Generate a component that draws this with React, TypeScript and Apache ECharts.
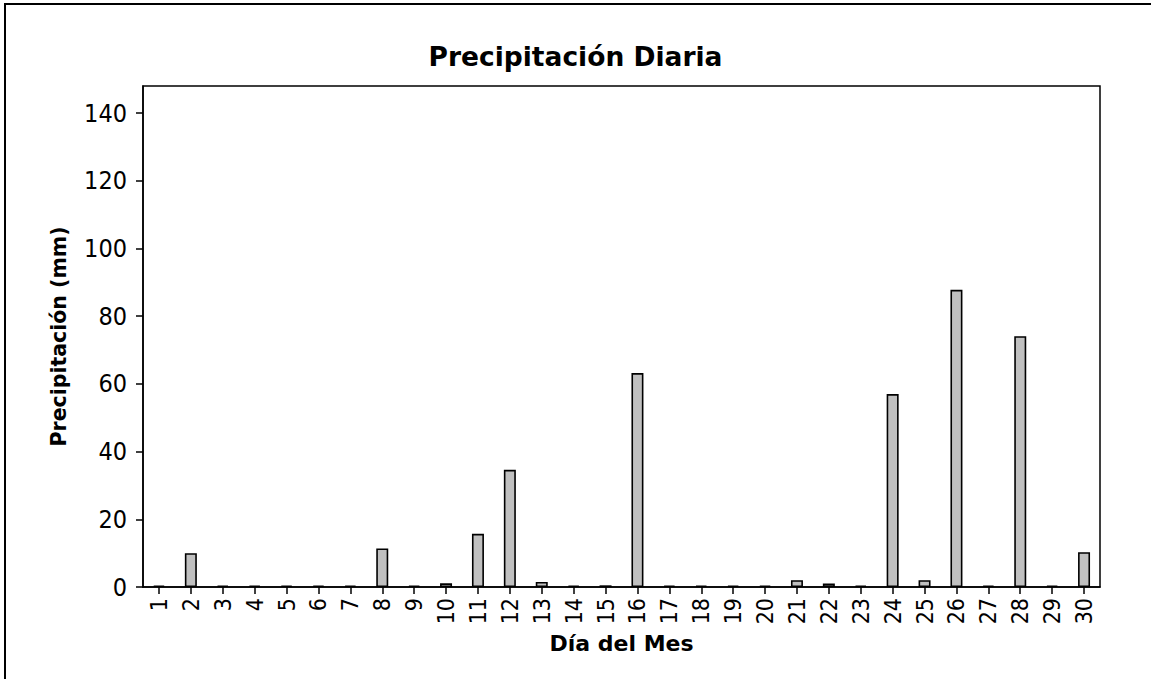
import React, { useEffect, useRef } from "react";
import * as echarts from "echarts";

const days: string[] = [
  "1", "2", "3", "4", "5", "6", "7", "8", "9", "10",
  "11", "12", "13", "14", "15", "16", "17", "18", "19", "20",
  "21", "22", "23", "24", "25", "26", "27", "28", "29", "30",
];
const precipitation: number[] = [
  0, 10, 0, 0, 0, 0, 0, 11.4, 0, 1.1,
  15.7, 34.6, 1.5, 0, 0.5, 63.2, 0, 0, 0, 0,
  2, 1, 0, 57, 2, 87.8, 0, 74.1, 0, 10.3,
];
const yTicks: number[] = [0, 20, 40, 60, 80, 100, 120, 140];

const titleText = "Precipitación Diaria";
const yName = "Precipitación (mm)";
const xName = "Día del Mes";

const FONT = "'DejaVu Sans Condensed', 'DejaVu Sans', Verdana, sans-serif";
const BOLD_FONT = "'DejaVu Sans', Verdana, sans-serif";

export default function App() {
  const ref = useRef<HTMLDivElement>(null);
  useEffect(() => {
    document.body.style.margin = "0";
    if (!ref.current) return;
    const chart = echarts.init(ref.current, undefined, { renderer: "svg" });
    chart.setOption({
      animation: false,
      backgroundColor: "#ffffff",
      textStyle: { fontFamily: FONT, color: "#000" },
      title: {
        text: titleText,
        left: "center",
        top: 38,
        textStyle: {
          fontFamily: BOLD_FONT,
          fontWeight: "bold",
          fontSize: 26.5,
          color: "#000",
        },
      },
      graphic: [
        {
          type: "rect",
          shape: { x: 5, y: 4, width: 1200, height: 720 },
          style: { fill: "none", stroke: "#000", lineWidth: 2 },
          silent: true,
        },
      ],
      grid: {
        left: 143,
        top: 86,
        right: 51,
        bottom: 92,
        show: true,
        borderColor: "#000",
        borderWidth: 1.5,
        backgroundColor: "transparent",
      },
      xAxis: {
        type: "category",
        data: days,
        boundaryGap: true,
        name: xName,
        nameLocation: "middle",
        nameGap: 45,
        nameTextStyle: {
          fontFamily: BOLD_FONT,
          fontWeight: "bold",
          fontSize: 22,
          color: "#000",
        },
        axisLine: { show: true, lineStyle: { color: "#000", width: 1.5 } },
        axisTick: {
          show: true,
          alignWithLabel: true,
          length: 7,
          lineStyle: { color: "#000", width: 1.5 },
        },
        axisLabel: {
          rotate: 90,
          interval: 0,
          margin: 11,
          fontFamily: FONT,
          fontSize: 23,
          color: "#000",
        },
        splitLine: { show: false },
      },
      yAxis: {
        type: "value",
        min: 0,
        max: 148,
        interval: 20,
        name: yName,
        nameLocation: "middle",
        nameGap: 74,
        nameTextStyle: {
          fontFamily: BOLD_FONT,
          fontWeight: "bold",
          fontSize: 20.5,
          color: "#000",
        },
        axisLine: { show: true, lineStyle: { color: "#000", width: 1.5 } },
        axisTick: {
          show: true,
          length: 7,
          customValues: yTicks,
          lineStyle: { color: "#000", width: 1.5 },
        },
        axisLabel: {
          margin: 16,
          customValues: yTicks,
          fontFamily: FONT,
          fontSize: 25,
          color: "#000",
        },
        splitLine: { show: false },
      },
      series: [
        {
          type: "bar",
          data: precipitation,
          barWidth: 12,
          barMinHeight: 1.5,
          z: 5,
          itemStyle: {
            color: "#C0C0C0",
            borderColor: "#000",
            borderWidth: 1.6,
          },
        },
      ],
    });
    return () => chart.dispose();
  }, []);
  return (
    <div
      ref={ref}
      style={{ position: "absolute", left: 0, top: 0, width: 1151, height: 679 }}
    />
  );
}
